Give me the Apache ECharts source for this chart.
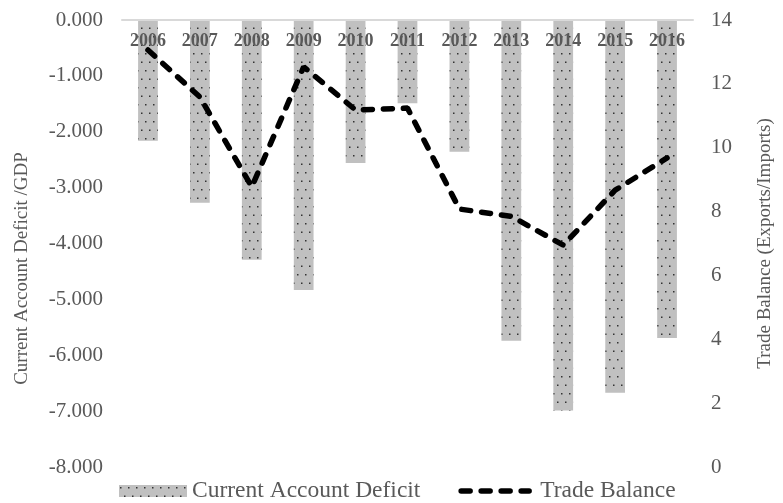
<!DOCTYPE html>
<html>
<head>
<meta charset="utf-8">
<script src="https://cdn.jsdelivr.net/npm/echarts@6/dist/echarts.min.js"></script>
<style>
html,body{margin:0;padding:0;background:#fff;}
#chart{width:783px;height:503px;}
</style>
</head>
<body>
<div id="chart"></div>
<script>
var years = ['2006','2007','2008','2009','2010','2011','2012','2013','2014','2015','2016'];
var currentAccountDeficit = [-2.16, -3.27, -4.29, -4.83, -2.56, -1.49, -2.36, -5.74, -6.99, -6.67, -5.69];
var tradeBalance = [13.06, 11.59, 8.77, 12.53, 11.18, 11.24, 8.08, 7.85, 6.95, 8.67, 9.68];
var leftTicks = {min: -8, max: 0, interval: 1};
var rightTicks = {min: 0, max: 14, interval: 2};

var FONT = '"Liberation Serif", "Times New Roman", serif';
var GRAY = '#595959';

// dotted pattern for bars
var pc = document.createElement('canvas');
pc.width = 8; pc.height = 17;
var ctx = pc.getContext('2d');
ctx.fillStyle = '#c0c0c0';
ctx.fillRect(0, 0, 8, 17);
ctx.fillStyle = '#333333';
ctx.fillRect(1, 2, 1.5, 1.5);
ctx.fillRect(5, 10.5, 1.5, 1.5);

var lineStyleTB = {color: '#000', width: 5.5, type: [9, 11], cap: 'round'};

var chart = echarts.init(document.getElementById('chart'), null, {renderer: 'canvas'});
chart.setOption({
  backgroundColor: '#fff',
  animation: false,
  textStyle: {fontFamily: FONT},
  grid: {left: 122, right: 88, top: 20, bottom: 36, containLabel: false},
  legend: {
    bottom: -5,
    left: 114,
    itemWidth: 68,
    itemHeight: 12,
    itemGap: 38,
    textStyle: {fontFamily: FONT, fontSize: 23.5, color: GRAY},
    data: [
      {name: 'Current Account Deficit', icon: 'rect'},
      {name: 'Trade Balance', itemStyle: {opacity: 0},
       lineStyle: {color: '#000', width: 5.5, type: [9, 11], cap: 'round'},
       textStyle: {padding: [0, 0, 0, 6]}}
    ]
  },
  xAxis: {
    type: 'category',
    position: 'top',
    z: 10,
    data: years,
    axisLine: {show: true, lineStyle: {color: '#d9d9d9', width: 2}},
    axisTick: {show: false},
    axisLabel: {inside: true, margin: 12, fontFamily: FONT, fontSize: 18, fontWeight: 'bold', color: GRAY}
  },
  yAxis: [
    {
      type: 'value',
      min: leftTicks.min, max: leftTicks.max, interval: leftTicks.interval,
      name: 'Current Account Deficit /GDP',
      nameLocation: 'middle',
      nameGap: 90,
      nameTextStyle: {fontFamily: FONT, fontSize: 19, color: GRAY, padding: [0, 50, 0, 0]},
      axisLine: {show: false},
      axisTick: {show: false},
      splitLine: {show: false},
      axisLabel: {margin: 19, fontFamily: FONT, fontSize: 21, color: GRAY,
        formatter: function (v) { return v.toFixed(3); }}
    },
    {
      type: 'value',
      position: 'right',
      min: rightTicks.min, max: rightTicks.max, interval: rightTicks.interval,
      name: 'Trade Balance (Exports/Imports)',
      nameLocation: 'middle',
      nameRotate: 90,
      nameGap: 63,
      nameTextStyle: {fontFamily: FONT, fontSize: 19, color: GRAY},
      axisLine: {show: false},
      axisTick: {show: false},
      splitLine: {show: false},
      axisLabel: {margin: 18, fontFamily: FONT, fontSize: 21, color: GRAY}
    }
  ],
  series: [
    {
      name: 'Current Account Deficit',
      type: 'bar',
      yAxisIndex: 0,
      data: currentAccountDeficit,
      barWidth: '38%',
      itemStyle: {color: {image: pc, repeat: 'repeat'}},
      z: 2
    },
    {
      name: 'Trade Balance',
      type: 'line',
      yAxisIndex: 1,
      data: tradeBalance,
      symbol: 'none',
      lineStyle: lineStyleTB,
      itemStyle: {color: '#000'},
      z: 3
    }
  ]
});
</script>
</body>
</html>
